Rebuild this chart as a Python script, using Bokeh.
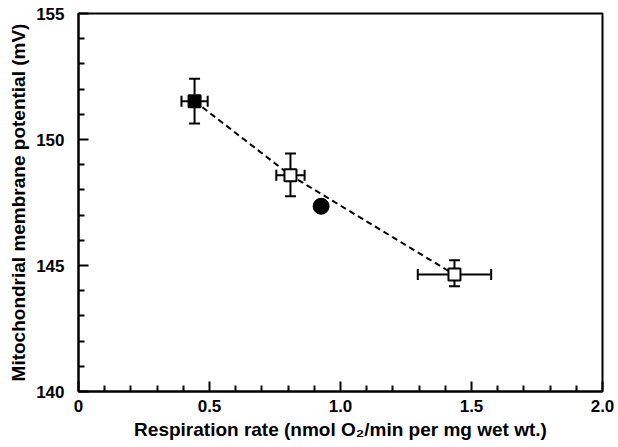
from bokeh.plotting import figure
from bokeh.models import ColumnDataSource, Whisker, TeeHead, FixedTicker, Range1d
from bokeh.embed import file_html
from bokeh.resources import INLINE

# ---- data ----
sq_x = [0.443, 0.809, 1.435]
sq_y = [151.52, 148.58, 144.64]
sq_xerr = [0.05, 0.054, 0.14]
sq_yerr_lo = [0.89, 0.83, 0.46]
sq_yerr_hi = [0.89, 0.86, 0.57]
sq_filled = [True, False, False]

circ_x = [0.926]
circ_y = [147.35]

x_ticks = [0, 0.5, 1.0, 1.5, 2.0]
x_tick_labels = ["0", "0.5", "1.0", "1.5", "2.0"]
x_minor = [0.1, 0.2, 0.3, 0.4, 0.6, 0.7, 0.8, 0.9, 1.1, 1.2, 1.3, 1.4, 1.6, 1.7, 1.8, 1.9]
y_ticks = [140, 145, 150, 155]
y_tick_labels = ["140", "145", "150", "155"]
y_minor = [141, 142, 143, 144, 146, 147, 148, 149, 151, 152, 153, 154]

x_title = "Respiration rate (nmol O\u2082/min per mg wet wt.)"
y_title = "Mitochondrial membrane potential (mV)"

FONT = "Liberation Sans"

p = figure(frame_width=524, frame_height=378, output_backend="svg", toolbar_location=None,
           x_range=Range1d(0, 2.0), y_range=Range1d(140, 155),
           min_border_left=78, min_border_right=15, min_border_top=13, min_border_bottom=20)
p.background_fill_color = "white"
p.border_fill_color = "white"
p.grid.visible = False
p.outline_line_color = "black"
p.outline_line_width = 2

# dashed connecting line through the squares
p.line(sq_x, sq_y, line_color="black", line_width=2, line_dash="6 4")

src = ColumnDataSource(dict(
    x=sq_x, y=sq_y,
    xl=[a - e for a, e in zip(sq_x, sq_xerr)],
    xu=[a + e for a, e in zip(sq_x, sq_xerr)],
    yl=[a - e for a, e in zip(sq_y, sq_yerr_lo)],
    yu=[a + e for a, e in zip(sq_y, sq_yerr_hi)],
    fill=["black" if f else "white" for f in sq_filled],
))

vw = Whisker(source=src, base="x", lower="yl", upper="yu", dimension="height",
             line_color="black", line_width=2,
             upper_head=TeeHead(size=11, line_width=2, line_color="black"),
             lower_head=TeeHead(size=11, line_width=2, line_color="black"))
hw = Whisker(source=src, base="y", lower="xl", upper="xu", dimension="width",
             line_color="black", line_width=2,
             upper_head=TeeHead(size=11, line_width=2, line_color="black"),
             lower_head=TeeHead(size=11, line_width=2, line_color="black"))
p.add_layout(vw)
p.add_layout(hw)

p.scatter("x", "y", source=src, marker="square", size=12, fill_color="fill",
          line_color="black", line_width=2)
p.scatter(circ_x, circ_y, marker="circle", size=16, fill_color="black", line_color="black")

# axes
p.xaxis.ticker = FixedTicker(ticks=x_ticks, minor_ticks=x_minor)
p.yaxis.ticker = FixedTicker(ticks=y_ticks, minor_ticks=y_minor)
p.xaxis.major_label_overrides = {t: l for t, l in zip(x_ticks, x_tick_labels)}
p.yaxis.major_label_overrides = {t: l for t, l in zip(y_ticks, y_tick_labels)}

for ax in (p.xaxis[0], p.yaxis[0]):
    ax.axis_line_width = 2
    ax.axis_line_color = "black"
    ax.major_tick_line_width = 2
    ax.minor_tick_line_width = 2
    ax.major_tick_out = 0
    ax.major_tick_in = 10
    ax.minor_tick_out = 0
    ax.minor_tick_in = 6
    ax.major_label_text_font = FONT
    ax.major_label_text_font_style = "bold"
    ax.major_label_text_font_size = "17px"
    ax.major_label_text_color = "black"
    ax.axis_label_text_font = FONT
    ax.axis_label_text_font_style = "bold"
    ax.axis_label_text_font_size = "19px"
    ax.axis_label_text_color = "black"

p.xaxis.axis_label = x_title
p.yaxis.axis_label = y_title
p.xaxis.major_label_standoff = 8
p.yaxis.major_label_standoff = 14
p.xaxis.axis_label_standoff = 4
p.yaxis.axis_label_standoff = 4

open("out.html", "w").write(file_html(p, INLINE))
